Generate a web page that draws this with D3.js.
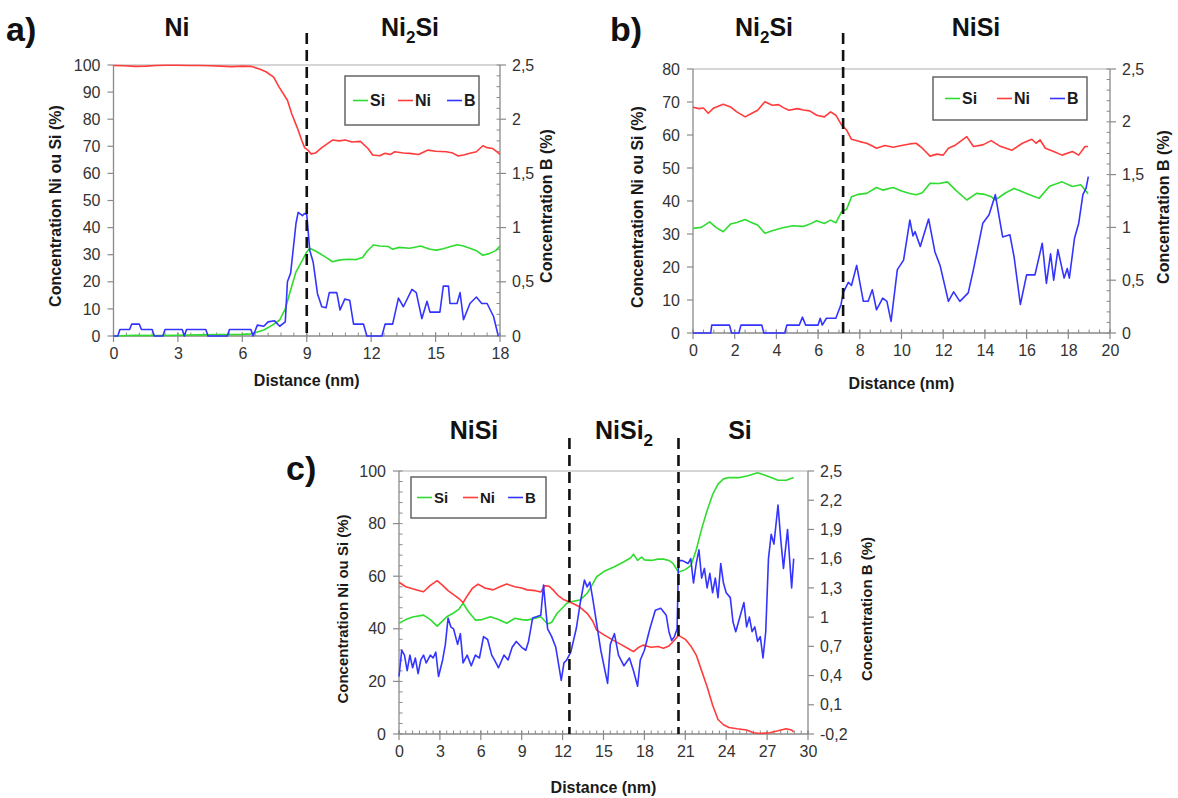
<!DOCTYPE html>
<html><head><meta charset="utf-8">
<script src="https://cdn.jsdelivr.net/npm/d3@7"></script>
<style>
body{margin:0;background:#fff;}
svg text{font-family:"Liberation Sans",Arial,sans-serif;}
</style></head><body>
<svg id="c" width="1178" height="798"></svg>
<script>
// ---------- Panel a (x in nm; Ni, Si in %; B in %) ----------
const aNi = [[0,99.8],[0.5,99.7],[1,99.5],[1.5,99.6],[2,99.8],[2.5,99.9],[3,99.9],[3.5,99.8],[4,99.8],[4.5,99.7],[5,99.6],[5.5,99.4],[6,99.6],[6.4,99.5],[6.8,98.5],[7.1,97.5],[7.46,95.5],[7.7,92],[8.1,87],[8.3,82],[8.5,78],[8.6,76],[8.75,72.5],[8.9,69.5],[9.05,68.6],[9.2,67.2],[9.4,67.5],[9.7,69.5],[10.0,71.2],[10.2,72.3],[10.5,72],[10.8,72.3],[11.1,71.6],[11.5,71.8],[11.85,69.2],[12.07,66.8],[12.4,66.5],[12.65,67.4],[12.9,67],[13.1,68],[13.5,67.5],[13.8,67.4],[14.2,67],[14.65,68.6],[15.0,68.2],[15.5,68],[15.8,67.5],[16.05,66.4],[16.3,66.8],[16.6,67.4],[16.9,68],[17.2,70.2],[17.4,69.5],[17.65,69.2],[17.85,68],[18,67]];
const aSi = [[0,0],[1,0.3],[2,0.2],[3,0.3],[4,0.4],[5,0.5],[6,0.6],[6.4,0.8],[6.7,1.5],[7.0,2.2],[7.4,4],[7.74,5.9],[8.0,10],[8.25,17],[8.5,23.7],[8.8,28],[9.0,31],[9.14,32.4],[9.45,31.2],[9.9,29],[10.2,27.4],[10.5,28],[10.7,28.2],[11.0,28.3],[11.3,28.2],[11.6,29],[11.8,31.2],[12.1,33.6],[12.4,33.2],[12.8,33],[13.0,32],[13.3,32.7],[13.8,32.4],[14.3,33.2],[14.74,32],[15.05,31.7],[15.36,32.2],[15.7,33],[16.0,33.7],[16.3,33.2],[16.6,32.4],[16.9,31.5],[17.2,29.8],[17.5,30.4],[17.8,31.5],[18.0,33.2]];
const aB = [[0,0],[0.2,0],[0.3,0.06],[0.75,0.06],[0.85,0.11],[1.2,0.11],[1.3,0.06],[1.8,0.06],[1.9,0],[2.3,0],[2.4,0.06],[3.2,0.06],[3.3,0],[3.4,0.06],[4.3,0.06],[4.4,0],[5.3,0],[5.4,0.06],[6.4,0.06],[6.5,0],[6.7,0.1],[7.0,0.09],[7.2,0.13],[7.5,0.14],[7.74,0.09],[8.0,0.13],[8.1,0.5],[8.25,0.58],[8.5,1.04],[8.6,1.14],[8.8,1.11],[8.9,1.13],[9.0,1.12],[9.14,0.79],[9.3,0.68],[9.5,0.39],[9.7,0.27],[9.9,0.26],[10.05,0.4],[10.4,0.4],[10.55,0.24],[10.77,0.34],[11.0,0.33],[11.18,0.11],[11.64,0.11],[11.8,0],[12.5,0],[12.65,0.11],[13.0,0.11],[13.27,0.35],[13.5,0.27],[13.9,0.43],[14.1,0.4],[14.36,0.16],[14.6,0.32],[14.74,0.22],[15.2,0.22],[15.36,0.46],[15.6,0.46],[15.67,0.3],[16.0,0.3],[16.14,0.4],[16.3,0.15],[16.6,0.3],[16.9,0.36],[17.15,0.3],[17.4,0.3],[17.7,0.18],[17.92,0]];
const aXTicks = [0,3,6,9,12,15,18];
const aYLTicks = [0,10,20,30,40,50,60,70,80,90,100];
const aYRTicks = [0,0.5,1,1.5,2,2.5];
const aBounds = [9];

// ---------- Panel b ----------
const bNi = [[0,68.4],[0.3,68],[0.5,68.2],[0.73,66.6],[1.0,68.2],[1.45,69.3],[1.8,68.5],[2.1,67],[2.5,65.5],[2.8,66.5],[3.1,67.5],[3.45,70.1],[3.8,69],[4.1,69.2],[4.33,68.3],[4.6,67.5],[5.0,68],[5.3,67.6],[5.6,67.3],[5.93,66],[6.3,65.5],[6.6,67],[6.85,66],[7.13,63],[7.37,61.5],[7.6,58.7],[8.0,58],[8.33,57.5],[8.65,56.5],[8.8,56],[9.2,56.8],[9.6,56.3],[10.0,56.8],[10.4,57.3],[10.7,57.5],[11.0,56],[11.37,53.6],[11.7,54.2],[12.0,53.9],[12.25,56],[12.6,57],[13.13,59.5],[13.45,56.5],[13.9,57],[14.3,58.3],[14.7,56.7],[15.3,55.4],[15.8,57.5],[16.25,58.7],[16.45,57.5],[16.65,58.5],[16.9,56],[17.3,55],[17.7,53.9],[18.2,55],[18.5,53.9],[18.8,56.5],[18.95,56.5]];
const bSi = [[0,31.7],[0.4,32],[0.8,33.7],[1.1,32],[1.45,30.7],[1.8,33],[2.1,33.5],[2.5,34.4],[2.8,33.5],[3.1,32.7],[3.45,30.2],[3.8,31],[4.3,31.9],[4.8,32.5],[5.3,32.3],[5.6,33],[5.93,34],[6.3,33.2],[6.6,34.2],[6.85,33.4],[7.13,36.8],[7.37,37.5],[7.6,41.3],[7.9,42],[8.33,42.3],[8.8,44.1],[9.1,43.3],[9.6,44.1],[10.0,43],[10.4,42.3],[10.7,41.9],[11.0,42.5],[11.37,45.4],[11.8,45.3],[12.2,45.8],[12.6,43.3],[13.13,40.3],[13.6,42.3],[14.0,42],[14.3,41.3],[14.5,40.3],[15.0,42.5],[15.4,43.8],[16.0,42.3],[16.3,41.5],[16.6,40.8],[17.1,44.5],[17.7,45.8],[18.2,44.4],[18.6,44.9],[18.95,42.2]];
const bB = [[0,0],[0.85,0],[0.9,0.075],[1.75,0.075],[1.85,0],[2.2,0],[2.3,0.075],[3.3,0.075],[3.4,0],[4.4,0],[4.5,0.075],[5.1,0.075],[5.25,0.15],[5.4,0.075],[6.0,0.075],[6.1,0.14],[6.2,0.075],[6.4,0.14],[6.85,0.14],[7.1,0.27],[7.2,0.38],[7.45,0.48],[7.6,0.45],[7.85,0.64],[8.17,0.3],[8.4,0.3],[8.6,0.41],[8.8,0.22],[9.1,0.33],[9.3,0.3],[9.5,0.11],[9.8,0.6],[10.1,0.69],[10.4,1.07],[10.55,0.92],[10.65,0.96],[10.9,0.82],[11.3,1.08],[11.6,0.77],[11.85,0.64],[12.25,0.3],[12.5,0.39],[12.8,0.3],[13.2,0.38],[13.45,0.6],[13.9,1.04],[14.2,1.12],[14.5,1.31],[14.85,0.91],[15.2,0.93],[15.4,0.72],[15.7,0.27],[16.0,0.55],[16.4,0.55],[16.75,0.85],[16.95,0.47],[17.15,0.75],[17.3,0.5],[17.5,0.79],[17.8,0.52],[17.95,0.61],[18.05,0.52],[18.3,0.9],[18.5,1.04],[18.7,1.31],[18.85,1.37],[18.96,1.48]];
const bXTicks = [0,2,4,6,8,10,12,14,16,18,20];
const bYLTicks = [0,10,20,30,40,50,60,70,80];
const bYRTicks = [0,0.5,1,1.5,2,2.5];
const bBounds = [7.2];

// ---------- Panel c ----------
const cNi = [[0,57.7],[0.5,56],[1.0,55.2],[1.5,54.5],[1.8,54.1],[2.3,56.5],[2.8,58.3],[3.2,56.5],[3.6,54.5],[4.0,53],[4.4,51.5],[4.7,49.9],[5.0,52.5],[5.4,55.5],[5.8,57],[6.3,55.5],[6.9,54.8],[7.4,56],[7.9,57],[8.5,56],[9.0,55.5],[9.4,54.8],[10.0,54.5],[10.4,54],[10.7,56.4],[11.0,56.2],[11.3,54.8],[11.7,52.5],[12.1,51],[12.6,50],[13.2,48.5],[13.8,45.9],[14.2,43],[14.5,39.5],[15.1,37.5],[15.7,35.7],[16.3,34],[16.8,32.5],[17.2,31.3],[17.6,33],[17.9,33.8],[18.5,33],[19.0,33.3],[19.4,32.6],[19.8,33.5],[20.1,35.1],[20.5,37.5],[21.0,36],[21.4,33.5],[21.8,30],[22.2,24],[22.6,18],[23.0,11],[23.4,5.5],[23.8,3.5],[24.2,2.5],[24.8,2],[25.5,1.5],[26.0,0.5],[26.5,0.2],[27.2,0.5],[27.8,1.2],[28.4,2],[28.8,1.5],[28.95,0.8]];
const cSi = [[0,42.1],[0.5,43.5],[1.0,44.5],[1.8,45.2],[2.3,43.5],[2.8,41],[3.2,43],[3.5,44.6],[4.0,46],[4.4,47.5],[4.7,49.7],[5.1,46.5],[5.6,43.3],[6.1,43.5],[6.7,44.6],[7.3,43.5],[7.9,42.1],[8.5,44],[9.0,43.5],[9.4,43.3],[10.0,44],[10.4,44.6],[10.9,41.8],[11.2,42.5],[11.6,45.9],[12.0,48],[12.3,49.7],[12.8,50.5],[13.3,51],[13.8,53.5],[14.2,57],[14.5,59.8],[15.1,62],[15.8,63.6],[16.5,65.5],[17.0,67],[17.2,68.4],[17.5,66],[17.8,67.3],[18.0,66.2],[18.5,66],[19.0,66.5],[19.4,66.5],[19.8,66],[20.1,64.9],[20.5,61.5],[21.0,62.5],[21.4,64],[21.8,70],[22.2,78],[22.6,85],[23.0,91],[23.4,95],[23.8,97],[24.2,97.5],[25.0,97.5],[25.6,98.2],[26.3,99.3],[26.8,98.5],[27.3,97.5],[27.8,96.5],[28.4,96.5],[28.95,97.5]];
const cB = [[0,0.39],[0.2,0.66],[0.4,0.61],[0.6,0.45],[0.8,0.61],[1.0,0.48],[1.2,0.58],[1.4,0.42],[1.6,0.56],[1.8,0.61],[2.0,0.53],[2.3,0.61],[2.5,0.58],[2.7,0.64],[2.9,0.39],[3.2,0.56],[3.4,0.72],[3.6,0.99],[3.8,0.9],[4.0,0.88],[4.3,0.72],[4.5,0.83],[4.7,0.53],[5.0,0.61],[5.3,0.5],[5.6,0.61],[5.9,0.58],[6.2,0.8],[6.5,0.77],[6.8,0.61],[7.0,0.56],[7.3,0.48],[7.7,0.61],[8.0,0.56],[8.3,0.69],[8.6,0.75],[9.0,0.69],[9.3,0.66],[9.5,0.75],[9.8,0.99],[10.4,1.02],[10.6,1.33],[10.75,1.1],[10.9,0.88],[11.2,0.8],[11.5,0.69],[11.9,0.35],[12.1,0.53],[12.3,0.56],[12.6,0.64],[13.0,0.88],[13.3,1.15],[13.6,1.38],[13.8,1.31],[14.0,1.36],[14.2,1.2],[14.5,0.93],[14.8,0.66],[15.3,0.32],[15.5,0.72],[15.8,0.83],[16.1,0.61],[16.5,0.5],[16.9,0.58],[17.2,0.45],[17.5,0.29],[17.7,0.56],[18.0,0.66],[18.4,0.88],[18.8,1.07],[19.2,1.09],[19.6,1.02],[19.8,0.85],[20.0,0.76],[20.2,0.8],[20.4,0.88],[20.5,1.58],[20.8,1.58],[21.2,1.55],[21.4,1.6],[21.6,1.35],[21.8,1.55],[22.0,1.69],[22.2,1.4],[22.4,1.5],[22.6,1.3],[22.8,1.45],[23.0,1.25],[23.2,1.4],[23.4,1.2],[23.6,1.55],[23.8,1.35],[24.0,1.25],[24.3,1.2],[24.5,0.95],[24.7,0.85],[24.9,0.95],[25.1,1.05],[25.3,1.15],[25.5,0.9],[25.7,1.0],[25.9,0.85],[26.1,0.9],[26.3,0.75],[26.5,0.8],[26.7,0.58],[26.9,0.85],[27.1,1.6],[27.3,1.85],[27.5,1.75],[27.8,2.15],[28.0,1.8],[28.2,1.5],[28.5,1.9],[28.8,1.3],[28.95,1.6]];
const cXTicks = [0,3,6,9,12,15,18,21,24,27,30];
const cYLTicks = [0,20,40,60,80,100];
const cYRTicks = [-0.2,0.1,0.4,0.7,1,1.3,1.6,1.9,2.2,2.5];
const cBounds = [12.5,20.5];

const seriesNames = ["Si","Ni","B"];
const colors = {Si:"#2fdc2f", Ni:"#ff3b3b", B:"#3434ff"};

const svg = d3.select("#c");
const comma = d => String(+d.toFixed(2)).replace(".", ",");

function panel(o){
  const g = svg.append("g");
  const x = d3.scaleLinear().domain(o.xDomain).range([o.left, o.right]);
  const yL = d3.scaleLinear().domain(o.yLDomain).range([o.bottom, o.top]);
  const yR = d3.scaleLinear().domain(o.yRDomain).range([o.bottom, o.top]);
  const axisCol = "#8a8a8a";

  g.append("line").attr("x1", o.left).attr("x2", o.right).attr("y1", o.top).attr("y2", o.top)
    .attr("stroke", "#c9c9c9").attr("stroke-width", 1.5);

  g.append("g").selectAll("line").data(o.xMinor).join("line")
    .attr("x1", d => x(d)).attr("x2", d => x(d)).attr("y1", o.bottom - 3.5).attr("y2", o.bottom)
    .attr("stroke", axisCol).attr("stroke-width", 1);
  g.append("g").selectAll("line").data(o.yLMinor).join("line")
    .attr("x1", o.left).attr("x2", o.left + 3.5).attr("y1", d => yL(d)).attr("y2", d => yL(d))
    .attr("stroke", axisCol).attr("stroke-width", 1);
  g.append("g").selectAll("line").data(o.yRMinor).join("line")
    .attr("x1", o.right - 3.5).attr("x2", o.right).attr("y1", d => yR(d)).attr("y2", d => yR(d))
    .attr("stroke", axisCol).attr("stroke-width", 1);

  g.append("g").selectAll("line").data(o.xTicks).join("line")
    .attr("x1", d => x(d)).attr("x2", d => x(d)).attr("y1", o.bottom - 3.5).attr("y2", o.bottom + 6)
    .attr("stroke", axisCol).attr("stroke-width", 1.2);
  g.append("g").selectAll("line").data(o.yLTicks).join("line")
    .attr("x1", o.left - 6).attr("x2", o.left).attr("y1", d => yL(d)).attr("y2", d => yL(d))
    .attr("stroke", axisCol).attr("stroke-width", 1.2);
  g.append("g").selectAll("line").data(o.yRTicks).join("line")
    .attr("x1", o.right).attr("x2", o.right + 6).attr("y1", d => yR(d)).attr("y2", d => yR(d))
    .attr("stroke", axisCol).attr("stroke-width", 1.2);

  g.append("line").attr("x1", o.left).attr("x2", o.right).attr("y1", o.bottom).attr("y2", o.bottom).attr("stroke", axisCol).attr("stroke-width", 1.3);
  g.append("line").attr("x1", o.left).attr("x2", o.left).attr("y1", o.top).attr("y2", o.bottom).attr("stroke", axisCol).attr("stroke-width", 1.3);
  g.append("line").attr("x1", o.right).attr("x2", o.right).attr("y1", o.top).attr("y2", o.bottom).attr("stroke", axisCol).attr("stroke-width", 1.3);

  const styleAx = s => { s.select(".domain").remove(); s.selectAll("text").attr("font-size", o.tickFont).attr("fill", "#333"); };
  g.append("g").attr("transform", `translate(0,${o.bottom})`)
    .call(d3.axisBottom(x).tickValues(o.xTicks).tickSize(0).tickPadding(12).tickFormat(d3.format("d"))).call(styleAx);
  g.append("g").attr("transform", `translate(${o.left},0)`)
    .call(d3.axisLeft(yL).tickValues(o.yLTicks).tickSize(0).tickPadding(13).tickFormat(d3.format("d"))).call(styleAx);
  g.append("g").attr("transform", `translate(${o.right},0)`)
    .call(d3.axisRight(yR).tickValues(o.yRTicks).tickSize(0).tickPadding(12).tickFormat(comma)).call(styleAx);

  g.append("text").attr("x", (o.left + o.right) / 2).attr("y", o.xTitleY).attr("text-anchor", "middle")
    .attr("font-size", 16).attr("font-weight", "bold").attr("fill", "#1a1a1a").text("Distance (nm)");
  g.append("text").attr("transform", `translate(${o.yLTitleX},${o.yTitleCY}) rotate(-90)`).attr("text-anchor", "middle")
    .attr("dominant-baseline", "central").attr("font-size", o.yTitleFont).attr("font-weight", "bold").attr("fill", "#1a1a1a")
    .text("Concentration Ni ou Si (%)");
  g.append("text").attr("transform", `translate(${o.yRTitleX},${o.yTitleCY}) rotate(-90)`).attr("text-anchor", "middle")
    .attr("dominant-baseline", "central").attr("font-size", o.yTitleFont).attr("font-weight", "bold").attr("fill", "#1a1a1a")
    .text("Concentration B (%)");

  const lineL = d3.line().x(d => x(d[0])).y(d => yL(d[1]));
  const lineR = d3.line().x(d => x(d[0])).y(d => yR(d[1]));
  g.append("path").datum(o.Si).attr("d", lineL).attr("fill", "none").attr("stroke", colors.Si).attr("stroke-width", 1.6).attr("stroke-linejoin", "round");
  g.append("path").datum(o.Ni).attr("d", lineL).attr("fill", "none").attr("stroke", colors.Ni).attr("stroke-width", 1.6).attr("stroke-linejoin", "round");
  g.append("path").datum(o.B).attr("d", lineR).attr("fill", "none").attr("stroke", colors.B).attr("stroke-width", 1.6).attr("stroke-linejoin", "round");

  g.append("g").selectAll("line").data(o.bounds).join("line")
    .attr("x1", d => x(d)).attr("x2", d => x(d)).attr("y1", o.dashTop).attr("y2", o.bottom)
    .attr("stroke", "#111").attr("stroke-width", 2.6).attr("stroke-dasharray", "11,6");

  const L = o.legend;
  g.append("rect").attr("x", L.x).attr("y", L.y).attr("width", L.w).attr("height", L.h)
    .attr("fill", "#fff").attr("stroke", "#5a5a5a").attr("stroke-width", 1.4);
  seriesNames.forEach((n, i) => {
    const lx = L.items[i];
    g.append("line").attr("x1", lx).attr("x2", lx + 15).attr("y1", L.y + L.h / 2).attr("y2", L.y + L.h / 2)
      .attr("stroke", colors[n]).attr("stroke-width", 1.6);
    g.append("text").attr("x", lx + 17).attr("y", L.y + L.h / 2).attr("dominant-baseline", "central")
      .attr("font-size", L.font).attr("font-weight", "bold").attr("fill", "#1a1a1a").text(n);
  });

  g.append("text").attr("x", o.letter.x).attr("y", o.letter.y).attr("font-size", 34).attr("font-weight", "bold")
    .attr("fill", "#111").text(o.letter.t);
  o.phases.forEach(p => {
    const t = g.append("text").attr("x", p.x).attr("y", o.phaseY).attr("text-anchor", "middle")
      .attr("font-size", 25).attr("font-weight", "bold").attr("fill", "#111");
    p.parts.forEach(part => {
      if (part.sub) t.append("tspan").attr("font-size", 17).attr("dy", 7).text(part.s);
      else t.append("tspan").attr("dy", part.after ? -7 : 0).text(part.s);
    });
  });
}

panel({
  xDomain: [0, 18], yLDomain: [0, 100], yRDomain: [0, 2.5],
  left: 113.5, right: 500, top: 65, bottom: 336,
  xTicks: aXTicks, xMinor: d3.range(0, 18.01, 0.6), yLTicks: aYLTicks, yLMinor: [],
  yRTicks: aYRTicks, yRMinor: d3.range(0, 2.51, 0.1),
  tickFont: 16, yTitleFont: 16, xTitleY: 386, yLTitleX: 55, yRTitleX: 546, yTitleCY: 206,
  Si: aSi, Ni: aNi, B: aB, bounds: aBounds, dashTop: 33,
  legend: {x: 345, y: 76, w: 134, h: 49, items: [353, 398, 447], font: 16},
  letter: {x: 6, y: 41, t: "a)"}, phaseY: 36,
  phases: [{x: 177, parts: [{s: "Ni"}]}, {x: 410, parts: [{s: "Ni"}, {s: "2", sub: true}, {s: "Si", after: true}]}]
});

panel({
  xDomain: [0, 20], yLDomain: [0, 80], yRDomain: [0, 2.5],
  left: 693, right: 1110, top: 69, bottom: 333,
  xTicks: bXTicks, xMinor: d3.range(0, 20.01, 0.5), yLTicks: bYLTicks, yLMinor: [],
  yRTicks: bYRTicks, yRMinor: d3.range(0, 2.51, 0.1),
  tickFont: 16, yTitleFont: 16, xTitleY: 389, yLTitleX: 637, yRTitleX: 1163, yTitleCY: 207,
  Si: bSi, Ni: bNi, B: bB, bounds: bBounds, dashTop: 33,
  legend: {x: 933, y: 77, w: 154, h: 43, items: [945, 997, 1050], font: 16},
  letter: {x: 610, y: 41, t: "b)"}, phaseY: 36,
  phases: [{x: 764, parts: [{s: "Ni"}, {s: "2", sub: true}, {s: "Si", after: true}]}, {x: 976, parts: [{s: "NiSi"}]}]
});

panel({
  xDomain: [0, 30], yLDomain: [0, 100], yRDomain: [-0.2, 2.5],
  left: 399, right: 808, top: 471, bottom: 734,
  xTicks: cXTicks, xMinor: d3.range(0, 30.01, 0.5), yLTicks: cYLTicks, yLMinor: d3.range(0, 100.1, 4),
  yRTicks: cYRTicks, yRMinor: [],
  tickFont: 16, yTitleFont: 15, xTitleY: 793, yLTitleX: 342, yRTitleX: 866, yTitleCY: 609,
  Si: cSi, Ni: cNi, B: cB, bounds: cBounds, dashTop: 438,
  legend: {x: 411, y: 477, w: 135, h: 41, items: [417, 463, 508], font: 15},
  letter: {x: 286, y: 480, t: "c)"}, phaseY: 439,
  phases: [{x: 474, parts: [{s: "NiSi"}]}, {x: 624, parts: [{s: "NiSi"}, {s: "2", sub: true}]}, {x: 740, parts: [{s: "Si"}]}]
});
</script>
</body></html>
